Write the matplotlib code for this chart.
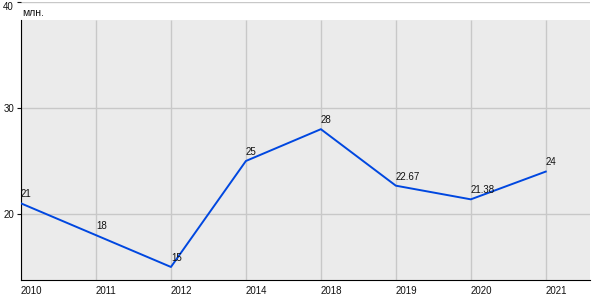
import matplotlib
matplotlib.use("Agg")
import matplotlib.pyplot as plt

years = ["2010", "2011", "2012", "2014", "2018", "2019", "2020", "2021"]
values = [21, 18, 15, 25, 28, 22.67, 21.38, 24]
labels = ["21", "18", "15", "25", "28", "22.67", "21.38", "24"]
yticks = [20, 30, 40]
unit = "млн."

plt.rcParams['font.family'] = ['Liberation Sans', 'DejaVu Sans']

fig = plt.figure(figsize=(6, 3), dpi=100)
ax = fig.add_axes([21/600, 20/300, (590-21)/600, (298-20)/300])
ymin, ymax = 13.77, 40.0
band_top = 38.3
x = list(range(len(years)))
ax.set_xlim(0, 7.59)
ax.set_ylim(ymin, ymax)
ax.set_facecolor('white')
ax.axhspan(ymin, band_top, color='#ebebeb', zorder=0, lw=0)
ax.vlines(x, ymin, band_top, colors='#c8c8c8', lw=1, zorder=1)
for yt in yticks:
    ax.axhline(yt, color='#c8c8c8', lw=1, zorder=1)

ax.plot(x, values, color='#0047e0', lw=1.4, zorder=3)
for xi, v, l in zip(x, values, labels):
    ax.annotate(l, (xi, v), xytext=(0, 3), textcoords='offset points',
                ha='left', va='bottom', fontsize=7, color='#111111', zorder=4)

for s in ['top', 'right']:
    ax.spines[s].set_visible(False)
ax.spines['left'].set_bounds(ymin, band_top)
ax.spines['left'].set_color('black')
ax.spines['bottom'].set_color('black')

ax.set_yticks(yticks)
ax.set_yticklabels([str(t) for t in yticks])
ax.tick_params(axis='y', length=3, width=0.8, labelsize=7, pad=2, colors='#111111')
for lab in ax.get_yticklabels():
    if lab.get_text() == "40":
        lab.set_verticalalignment('top')
ax.set_xticks(x)
ax.set_xticklabels(years, ha='left')
ax.tick_params(axis='x', length=0, labelsize=7, pad=4, colors='#111111')

fig.text(22/600, 1 - 13/300, unit, fontsize=7.5, va='center', ha='left', color='#111111')

fig.savefig("out.png", dpi=100)
